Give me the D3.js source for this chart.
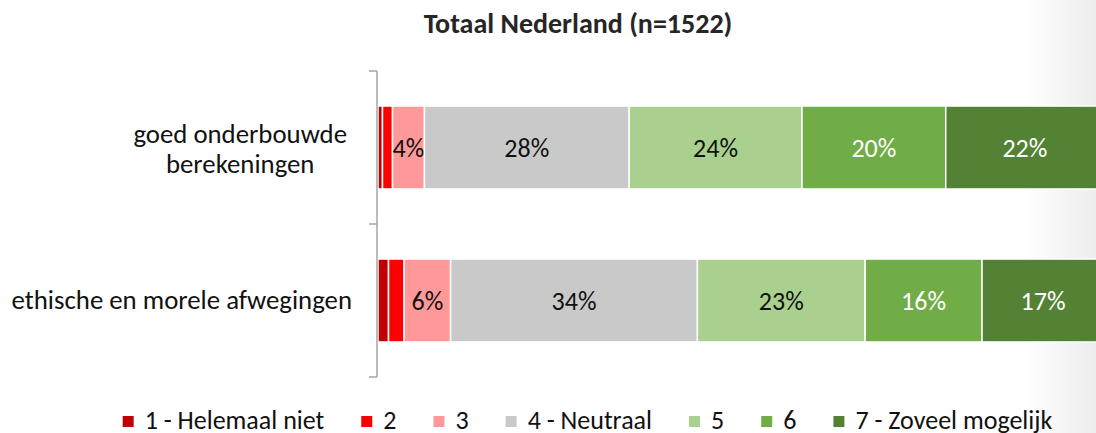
<!DOCTYPE html>
<html>
<head>
<meta charset="utf-8">
<script src="https://cdn.jsdelivr.net/npm/d3@7"></script>
<style>
  html, body { margin: 0; padding: 0; background: #fff; overflow: hidden; }
  svg { display: block; }
</style>
</head>
<body>
<svg id="chart" width="1096" height="433"></svg>
<script>
// ---- data -------------------------------------------------------------
const chartTitle = "Totaal Nederland (n=1522)";
const categories = ["goed onderbouwde berekeningen", "ethische en morele afwegingen"];
const categoryLines = [["goed onderbouwde", "berekeningen"], ["ethische en morele afwegingen"]];
const seriesNames = ["1 - Helemaal niet", "2", "3", "4 - Neutraal", "5", "6", "7 - Zoveel mogelijk"];
// percentage per answer (1..7) for each statement
const valuesOnderbouwd = [0.62, 1.38, 4.4, 28.2, 23.8, 19.8, 21.8];
const valuesEthisch    = [1.45, 2.15, 6.4, 34.0, 23.1, 16.1, 16.8];
const seriesColors = ["#C00000", "#FF0000", "#FF9999", "#C9C9C9", "#A9D08E", "#70AD47", "#548235"];
const labelColors  = ["#111", "#111", "#111", "#111", "#111", "#fff", "#fff"];

// ---- setup ------------------------------------------------------------
const W = 1096, H = 433;
const FONT = "Carlito, Calibri, Lato, 'Open Sans', sans-serif";
const svg = d3.select("#chart");

// soft shading at the right border of the canvas
const defs = svg.append("defs");
const grad = defs.append("linearGradient").attr("id", "edgeShade")
  .attr("x1", "0").attr("x2", "1").attr("y1", "0").attr("y2", "0");
grad.append("stop").attr("offset", "0").attr("stop-color", "#ffffff");
grad.append("stop").attr("offset", "1").attr("stop-color", "#ededed");
svg.append("rect").attr("x", 1025).attr("y", 0).attr("width", W - 1025).attr("height", H)
  .attr("fill", "url(#edgeShade)");

const rows = categories.map((c, i) => {
  const vals = [valuesOnderbouwd, valuesEthisch][i];
  const r = { category: c };
  seriesNames.forEach((s, j) => r[s] = vals[j]);
  return r;
});

const layers = d3.stack().keys(seriesNames)(rows);

const x = d3.scaleLinear().domain([0, 100]).range([378, 1104]);
const y = d3.scaleBand().domain(categories).range([71, 377])
  .paddingInner(0.458).paddingOuter(0.229);

// ---- title ------------------------------------------------------------
svg.append("text")
  .attr("x", 578).attr("y", 33)
  .attr("text-anchor", "middle")
  .attr("font-family", FONT).attr("font-weight", "bold")
  .attr("font-size", 28).attr("fill", "#262626")
  .text(chartTitle);

// ---- bars -------------------------------------------------------------
const g = svg.append("g");
layers.forEach((layer, li) => {
  g.selectAll(null).data(layer).enter().append("rect")
    .attr("x", d => x(d[0]))
    .attr("y", d => y(d.data.category))
    .attr("width", d => x(d[1]) - x(d[0]))
    .attr("height", y.bandwidth())
    .attr("fill", seriesColors[li])
    .attr("stroke", "#fff").attr("stroke-width", 1.5);

  g.selectAll(null).data(layer.filter(d => d[1] - d[0] >= 3)).enter().append("text")
    .attr("x", d => (x(d[0]) + x(d[1])) / 2)
    .attr("y", d => y(d.data.category) + y.bandwidth() / 2 + 9.5)
    .attr("text-anchor", "middle")
    .attr("font-family", FONT).attr("font-size", 26)
    .attr("fill", labelColors[li])
    .text(d => Math.round(d[1] - d[0]) + "%");
});

// ---- category axis ----------------------------------------------------
const axisX = 377;
const axisG = svg.append("g").attr("stroke", "#A6A6A6").attr("stroke-width", 1.5).attr("fill", "none");
axisG.append("line").attr("x1", axisX).attr("x2", axisX).attr("y1", 71).attr("y2", 377);
[71, 224, 377].forEach(t =>
  axisG.append("line").attr("x1", axisX - 8).attr("x2", axisX).attr("y1", t).attr("y2", t));

categories.forEach((c, i) => {
  const lines = categoryLines[i];
  const cy = y(c) + y.bandwidth() / 2;
  const t = svg.append("text")
    .attr("font-family", FONT).attr("font-size", 26.8).attr("fill", "#111")
    .attr("text-anchor", "middle");
  const spans = lines.map(ln => t.append("tspan").text(ln));
  const widths = spans.map(s => s.node().getComputedTextLength());
  const maxW = d3.max(widths);
  const right = lines.length === 1 ? 352 : 347;
  const base = lines.length === 1 ? cy + 8 : cy - 5;
  spans.forEach((s, k) => s.attr("x", right - maxW / 2).attr("y", base + k * 30));
});

// ---- legend -----------------------------------------------------------
const leg = svg.append("g");
const sq = 11, gapIn = 11, gapOut = 37;
const items = seriesNames.map((s, i) => {
  const gi = leg.append("g");
  gi.append("rect").attr("width", sq).attr("height", sq).attr("y", 416).attr("fill", seriesColors[i]);
  const tx = gi.append("text").attr("x", sq + gapIn).attr("y", 428.5)
    .attr("font-family", FONT).attr("font-size", 26).attr("fill", "#111").text(s);
  return { g: gi, w: sq + gapIn + tx.node().getComputedTextLength() };
});
const total = d3.sum(items, d => d.w) + gapOut * (items.length - 1);
let cx = 587.5 - total / 2;
items.forEach(it => { it.g.attr("transform", `translate(${cx},0)`); cx += it.w + gapOut; });
</script>
</body>
</html>
